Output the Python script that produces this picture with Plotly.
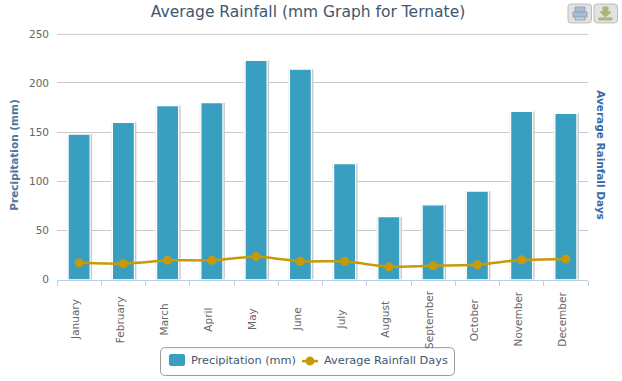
import plotly.graph_objects as go

months = ["January","February","March","April","May","June","July","August","September","October","November","December"]
precipitation = [148,160,177,180,223,214,118,64,76,90,171,169]
rain_days = [17,16,19.5,19.5,23.5,18.5,18.5,13,14,15,20,21]

W, H = 622, 381
L, R, T, B = 57, 588, 33, 280
M = 5  # vertical margin of the paper area
FONT = "DejaVu Sans"
def px(x): return x / W
def py(y): return 1 - (y - M) / (H - 2 * M)

def rr(x0, y0, x1, y1, r):
    a, b, c, d = px(x0), px(x1), py(y0), py(y1)
    rx = r / W; ry = r / (H - 2 * M)
    return (f"M{a+rx},{c} L{b-rx},{c} Q{b},{c} {b},{c-ry} L{b},{d+ry} Q{b},{d} {b-rx},{d} "
            f"L{a+rx},{d} Q{a},{d} {a},{d+ry} L{a},{c-ry} Q{a},{c} {a+rx},{c} Z")

def sh(path=None, fill="rgba(0,0,0,0)", line="rgba(0,0,0,0)", w=1, rect=None, kind="rect"):
    d = dict(xref="paper", yref="paper", fillcolor=fill, line=dict(color=line, width=w), layer="above")
    if rect:
        d.update(type=kind, x0=px(rect[0]), x1=px(rect[2]), y0=py(rect[1]), y1=py(rect[3]))
    else:
        d.update(type="path", path=path)
    return d

cat = (R - L) / 12
C_BAR = "#389FC1"
C_LINE = "#C89A08"
fig = go.Figure()
fig.add_bar(x=months, y=precipitation, width=25/cat, offset=-12.5/cat, marker=dict(color="#efefef", line=dict(width=0)), showlegend=False, hoverinfo="skip")
fig.add_bar(x=months, y=precipitation, width=22.5/cat, offset=-9.5/cat, marker=dict(color="#c9c9c9", line=dict(width=0)), showlegend=False, hoverinfo="skip")
fig.add_bar(x=months, y=precipitation, width=22/cat, offset=-11/cat, name="Precipitation (mm)",
            marker=dict(color=C_BAR, line=dict(color="#ffffff", width=1.2)))
fig.add_scatter(x=months, y=rain_days, name="Average Rainfall Days", mode="lines+markers",
                line=dict(color=C_LINE, width=2.5, shape="spline", smoothing=0.4),
                marker=dict(color=C_LINE, size=9))

shapes = [
    dict(type="line", xref="paper", yref="paper", x0=px(L), x1=px(R), y0=py(T + 0.5), y1=py(T + 0.5), line=dict(color="#C9C9C9", width=1), layer="below"),
    sh(path=rr(160.5, 348.5, 454.5, 376.5, 5), line="#999999", w=1),
    sh(path=rr(169, 355, 185, 367, 2), fill=C_BAR),
    sh(path=f"M{px(302)},{py(362)} L{px(318)},{py(362)}", line=C_LINE, w=2.5),
    sh(rect=(305.5, 357.5, 314.5, 366.5), fill=C_LINE, kind="circle"),
    sh(path=rr(568, 3, 591.5, 22, 3), fill="#E2E2E2", line="#BDBDBD"),
    sh(path=rr(594, 3, 617.5, 22, 3), fill="#E2E2E2", line="#BDBDBD"),
    sh(rect=(575, 6, 585, 11), fill="#A9BDD0", line="#8FA6BC"),
    sh(rect=(573, 11, 587, 16), fill="#A9BDD0", line="#8FA6BC"),
    sh(rect=(575, 16, 585, 19), fill="#C7D4E0", line="#8FA6BC"),
    sh(rect=(603, 6, 608, 11), fill="#A9B57E", line="#A9B57E"),
    sh(path=f"M{px(600)},{py(11)} L{px(611)},{py(11)} L{px(605.5)},{py(16)} Z", fill="#A9B57E", line="#A9B57E"),
    sh(rect=(599, 17, 612, 19), fill="#A9B57E", line="#A9B57E"),
]

def note(text, x, y, size, color, angle=0, xanchor="center", xref="paper", xshift=0):
    return dict(text=text, x=x, xref=xref, y=py(y), yref="paper", textangle=angle, showarrow=False, xshift=xshift,
                font=dict(family=FONT, size=size, color=color), xanchor=xanchor, yanchor="middle")

annotations = [note(m, m, 320, 10.5, "#666666", angle=-90, xref="x", xshift=-3.5) for m in months]
annotations += [
    note("<b>Precipitation (mm)</b>", px(14.5), 155, 10.5, "#4D759E", angle=-90),
    note("<b>Average Rainfall Days</b>", px(601), 155, 10.5, "#3B6AA5", angle=90),
    note("Precipitation (mm)", px(188.5), 361, 11.3, "#3E576F", xanchor="left"),
    note("Average Rainfall Days", px(321.5), 361, 11.3, "#3E576F", xanchor="left"),
]

fig.update_layout(
    width=W, height=H, barmode="overlay", plot_bgcolor="white", paper_bgcolor="white",
    margin=dict(l=0, r=0, t=M, b=M),
    title=dict(text="Average Rainfall (mm Graph for Ternate)", x=308/W, xanchor="center", y=1-11.5/H, yanchor="middle",
               font=dict(family=FONT, size=15.5, color="#3E576F")),
    shapes=shapes, annotations=annotations, showlegend=False,
)
fig.update_xaxes(type="category", categoryorder="array", categoryarray=months, range=[-0.5, 11.5],
                 domain=[L/W, R/W], showticklabels=False, showgrid=False, showline=True, linecolor="#C0D0E0", linewidth=1,
                 ticks="outside", tickson="boundaries", ticklen=5, tickcolor="#C0D0E0")
fig.update_yaxes(range=[0, 250], domain=[py(B), py(T)], tickvals=[0,50,100,150,200,250], showgrid=True, gridcolor="#C9C9C9", gridwidth=1,
                 zeroline=False, ticks="", tickfont=dict(family=FONT, size=10.5, color="#666666"), ticklabelstandoff=7)
fig.write_html("out.html", post_script="document.body.style.margin='0';", config=dict(displayModeBar=False))
